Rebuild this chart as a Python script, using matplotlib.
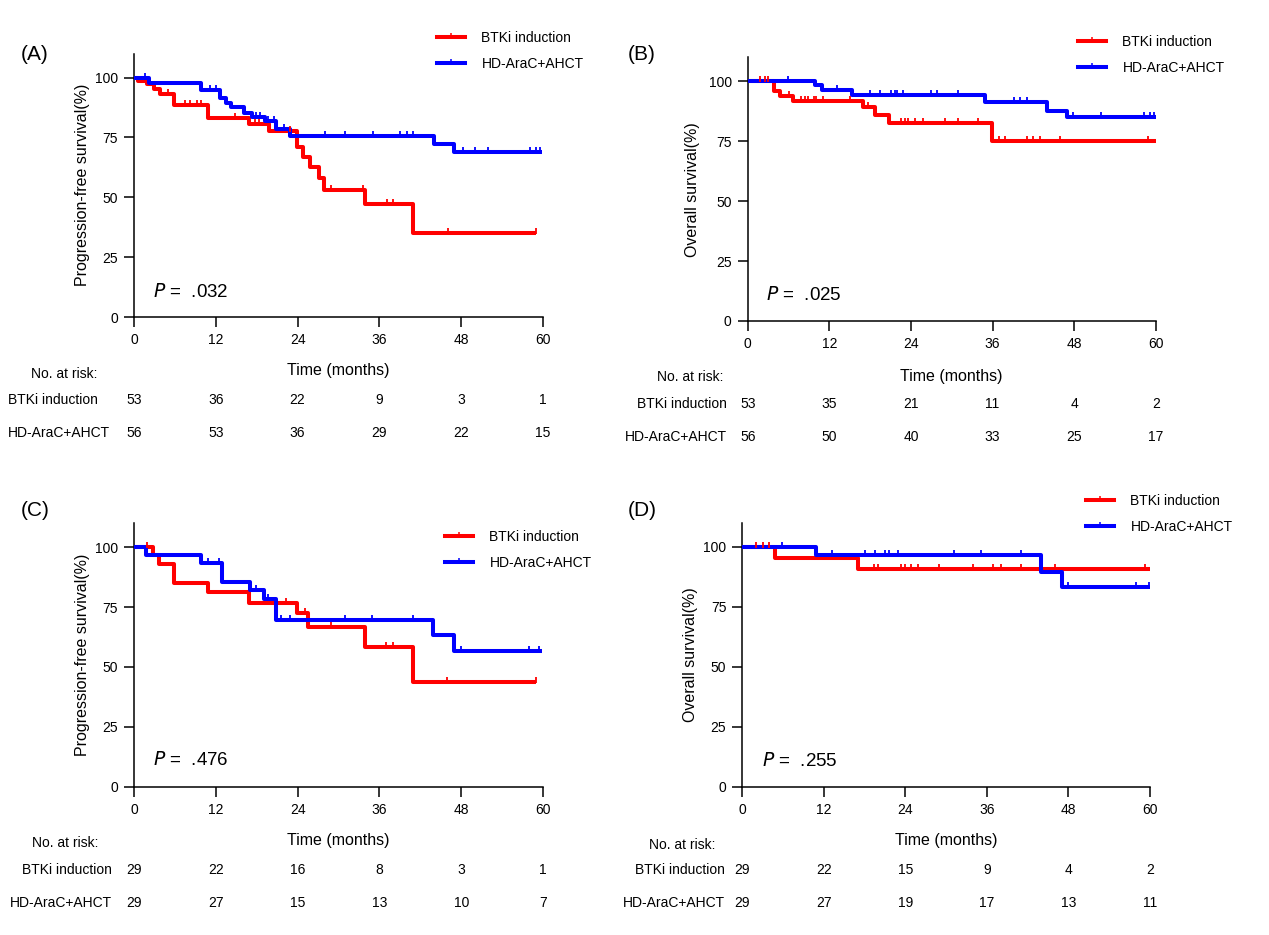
import numpy as np
import matplotlib.pyplot as plt
from matplotlib.lines import Line2D
from matplotlib.path import Path
from matplotlib.transforms import blended_transform_factory as blend

plt.rcParams['font.family'] = ['Liberation Sans', 'DejaVu Sans']

# ---- data (months, % surviving) ----
groups = ['BTKi induction', 'HD-AraC+AHCT']
risk_times = [0, 12, 24, 36, 48, 60]

# (A) PFS, whole cohort
a_btk_t = [0, 0.64, 1.86, 2.98, 3.8, 5.8, 10.9, 16.8, 19.8, 23.9, 24.8, 25.8, 27.2, 27.8, 33.9, 40.9]
a_btk_s = [100, 98.6, 97.2, 95.4, 93.3, 88.7, 82.9, 80.5, 77.7, 70.8, 66.6, 62.7, 58.2, 53.2, 47.1, 35.2]
a_btk_end = 58.9
a_btk_cens = [5.0, 7.5, 8.2, 9.2, 9.9, 14.8, 17.8, 18.3, 22.9, 28.9, 33.6, 37.1, 38.0, 46.0, 58.9]
a_hd_t = [0, 2.25, 9.9, 12.6, 13.5, 14.2, 16.1, 17.3, 19.2, 20.9, 22.9, 44.0, 46.9]
a_hd_s = [100, 97.9, 94.7, 91.6, 89.4, 87.5, 85.2, 83.6, 81.8, 78.7, 75.5, 72.1, 68.9]
a_hd_end = 59.9
a_hd_cens = [1.6, 11.1, 12.1, 17.9, 18.5, 19.6, 20.6, 22.0, 28.0, 31.0, 35.0, 39.0, 40.0, 41.0,
             48.3, 50.0, 52.0, 58.1, 58.9, 59.5]
a_risk_btk = [53, 36, 22, 9, 3, 1]
a_risk_hd = [56, 53, 36, 29, 22, 15]

# (B) OS, whole cohort
b_btk_t = [0, 3.9, 4.75, 6.7, 17.0, 18.7, 20.8, 35.9]
b_btk_s = [100, 96.0, 93.8, 91.6, 89.3, 85.8, 82.5, 75.1]
b_btk_end = 60
b_btk_cens = [1.8, 2.6, 3.0, 6.0, 7.9, 8.4, 8.9, 9.7, 10.1, 11.1, 15.0, 17.7, 22.6, 23.1, 23.6,
              24.6, 25.8, 29.0, 30.9, 33.8, 36.9, 37.9, 41.0, 42.0, 43.0, 45.9, 58.9]
b_hd_t = [0, 9.9, 10.9, 15.3, 34.9, 44.0, 46.9]
b_hd_s = [100, 98.5, 96.4, 94.4, 91.4, 87.8, 85.0]
b_hd_end = 60
b_hd_cens = [5.9, 13.1, 18.0, 19.5, 21.0, 21.7, 22.0, 22.9, 26.9, 27.9, 30.9, 39.1, 40.1, 41.0,
             47.9, 51.9, 58.3, 59.1, 59.8]
b_risk_btk = [53, 35, 21, 11, 4, 2]
b_risk_hd = [56, 50, 40, 33, 25, 17]

# (C) PFS, subgroup
c_btk_t = [0, 2.84, 3.7, 5.8, 10.9, 16.8, 23.9, 25.5, 33.9, 40.9]
c_btk_s = [100, 96.6, 92.9, 85.2, 81.2, 76.9, 72.4, 66.9, 58.5, 43.9]
c_btk_end = 58.9
c_btk_cens = [1.9, 22.3, 25.1, 28.9, 36.9, 38.0, 45.9, 58.9]
c_hd_t = [0, 1.76, 9.9, 12.9, 17.0, 19.0, 20.9, 43.9, 46.9]
c_hd_s = [100, 96.8, 93.3, 85.7, 82.2, 78.3, 69.6, 63.4, 56.8]
c_hd_end = 59.9
c_hd_cens = [10.9, 12.4, 17.9, 19.7, 21.6, 22.9, 30.9, 34.9, 40.9, 47.9, 57.9, 59.4]
c_risk_btk = [29, 22, 16, 8, 3, 1]
c_risk_hd = [29, 27, 15, 13, 10, 7]

# (D) OS, subgroup
d_btk_t = [0, 4.8, 17.1]
d_btk_s = [100, 95.2, 90.9]
d_btk_end = 60
d_btk_cens = [2.0, 3.0, 3.9, 19.4, 19.9, 23.3, 23.9, 24.9, 25.9, 28.9, 33.9, 36.9, 38.1, 41.0, 46.0, 59.2]
d_hd_t = [0, 10.9, 44.0, 47.0]
d_hd_s = [100, 96.5, 89.6, 83.3]
d_hd_end = 60
d_hd_cens = [5.9, 13.2, 18.0, 19.5, 21.0, 21.6, 22.9, 31.1, 35.1, 41.0, 48.0, 58.0, 59.8]
d_risk_btk = [29, 22, 15, 9, 4, 2]
d_risk_hd = [29, 27, 19, 17, 13, 11]

p_values = ['.032', '.025', '.476', '.255']
ylabels = ['Progression-free survival(%)', 'Overall survival(%)',
           'Progression-free survival(%)', 'Overall survival(%)']
tags = ['(A)', '(B)', '(C)', '(D)']

RED = '#ff0000'
BLUE = '#0000ff'
W, H = 1269, 935

# censor tick: a short vertical stroke sitting mostly above the line
CENS = Path([(0, -0.3), (0, 1)], [Path.MOVETO, Path.LINETO])

fig = plt.figure(figsize=(W / 100, H / 100), dpi=100)


def ftext(px, py, s, **kw):
    fig.text(px / W, 1 - py / H, s, **kw)


def km(ax, t, s, end, cens, color):
    ax.plot(list(t) + [end], list(s) + [s[-1]], drawstyle='steps-post', color=color,
            lw=2.9, solid_capstyle='butt', clip_on=False, zorder=3)
    idx = np.searchsorted(t, cens, side='right') - 1
    ax.plot(cens, np.array(s)[idx], ls='none', marker=CENS, ms=7, mew=1.3,
            color=color, clip_on=False, zorder=4)


# pixel layout: axis x at 0 / 60, axis y at 0 / 100, legend, P text, tag, ylabel x,
# risk-table rows (time label, no. at risk, row1, row2), label x and alignment
layout = [
    dict(x0=134, x1=543, y0=317, y100=77.5, leg=(437, 31), p=(153, 292), tag=(21, 54), ylab=82,
         rows=(370, 374, 400, 433), natx=31, nat_ha='left', gx=8, g_ha='left'),
    dict(x0=747.7, x1=1155.7, y0=321, y100=81.3, leg=(1078, 35), p=(766, 295), tag=(628, 54), ylab=693,
         rows=(376, 377, 404, 437), natx=723, nat_ha='right', gx=727, g_ha='right'),
    dict(x0=134, x1=543, y0=786.7, y100=547.3, leg=(445, 530), p=(153, 760), tag=(21, 510), ylab=82,
         rows=(840, 843, 870, 903), natx=32, nat_ha='left', gx=112, g_ha='right'),
    dict(x0=742.3, x1=1150, y0=786.7, y100=546.7, leg=(1086, 494), p=(762, 761), tag=(628, 510), ylab=690,
         rows=(840, 845, 870, 903), natx=715, nat_ha='right', gx=725, g_ha='right'),
]

curves = [
    [(a_btk_t, a_btk_s, a_btk_end, a_btk_cens), (a_hd_t, a_hd_s, a_hd_end, a_hd_cens)],
    [(b_btk_t, b_btk_s, b_btk_end, b_btk_cens), (b_hd_t, b_hd_s, b_hd_end, b_hd_cens)],
    [(c_btk_t, c_btk_s, c_btk_end, c_btk_cens), (c_hd_t, c_hd_s, c_hd_end, c_hd_cens)],
    [(d_btk_t, d_btk_s, d_btk_end, d_btk_cens), (d_hd_t, d_hd_s, d_hd_end, d_hd_cens)],
]
risks = [(a_risk_btk, a_risk_hd), (b_risk_btk, b_risk_hd),
         (c_risk_btk, c_risk_hd), (d_risk_btk, d_risk_hd)]

for i, L in enumerate(layout):
    hpx = (L['y0'] - L['y100']) * 1.1
    ax = fig.add_axes([L['x0'] / W, 1 - L['y0'] / H, (L['x1'] - L['x0']) / W, hpx / H])
    ax.set_xlim(0, 60)
    ax.set_ylim(0, 110)
    ax.set_xticks(risk_times)
    ax.set_yticks([0, 25, 50, 75, 100])
    for sp in ['top', 'right']:
        ax.spines[sp].set_visible(False)
    for sp in ['left', 'bottom']:
        ax.spines[sp].set_linewidth(1.1)
    ax.tick_params(direction='out', length=7.5, width=1.1, labelsize=10, pad=4)
    ax.patch.set_alpha(0)

    for (t, s, end, cens), col in zip(curves[i], [RED, BLUE]):
        km(ax, t, s, end, cens, col)

    handles = [Line2D([], [], color=c, lw=2.9, marker=CENS, ms=6, mew=1.1) for c in [RED, BLUE]]
    ax.legend(handles, groups, loc='upper left', bbox_to_anchor=(L['leg'][0] / W, 1 - L['leg'][1] / H),
              bbox_transform=fig.transFigure, frameon=False, fontsize=10, handlelength=2.0,
              handletextpad=1.2, labelspacing=0.85, borderpad=0, borderaxespad=0)

    ftext(L['p'][0], L['p'][1], r'$\it{P}$ =  ' + p_values[i], fontsize=13.5, va='center', ha='left')
    ftext(L['tag'][0], L['tag'][1], tags[i], fontsize=15, va='center', ha='left')
    ftext(L['ylab'], L['y0'] - hpx / 2, ylabels[i], fontsize=11.5, rotation=90, va='center', ha='center')

    r_time, r_nat, r_1, r_2 = L['rows']
    ftext((L['x0'] + L['x1']) / 2, r_time, 'Time (months)', fontsize=11.5, ha='center', va='center')
    ftext(L['natx'], r_nat, 'No. at risk:', fontsize=10, ha=L['nat_ha'], va='center')
    tr = blend(ax.transData, fig.transFigure)
    for ry, g, counts in zip([r_1, r_2], groups, risks[i]):
        ftext(L['gx'], ry, g, fontsize=10, ha=L['g_ha'], va='center')
        for tx, n in zip(risk_times, counts):
            ax.text(tx, 1 - ry / H, str(n), transform=tr, fontsize=10, ha='center', va='center')

fig.savefig('out.png', dpi=100)
